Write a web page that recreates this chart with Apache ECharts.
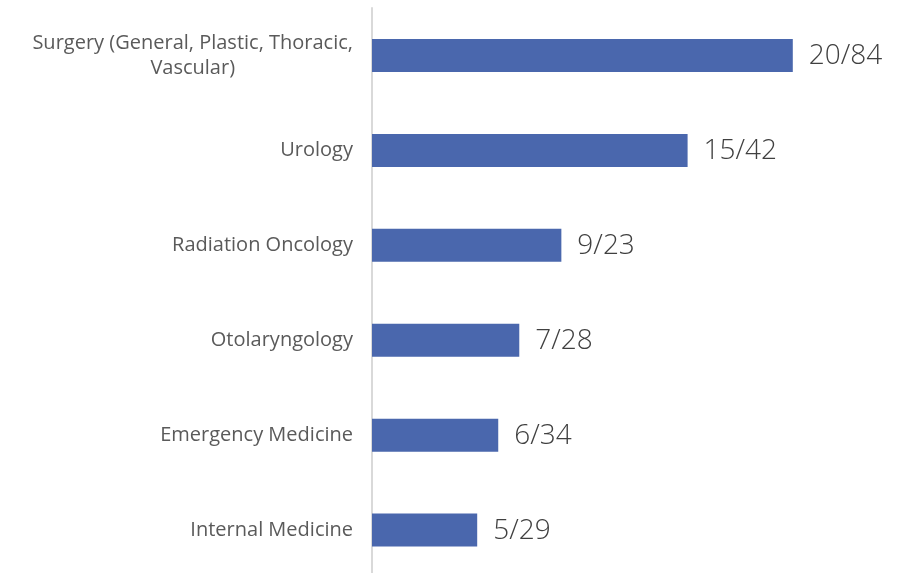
<!DOCTYPE html>
<html>
<head>
<meta charset="utf-8">
<script src="https://cdn.jsdelivr.net/npm/echarts@6/dist/echarts.min.js"></script>
<style>
  html, body { margin: 0; padding: 0; background: #fff; }
  #main { width: 904px; height: 573px; }
</style>
</head>
<body>
<div id="main"></div>
<script>
// categories listed bottom to top (category axis starts at the bottom)
var categories = ['Internal Medicine', 'Emergency Medicine', 'Otolaryngology',
  'Radiation Oncology', 'Urology', 'Surgery (General, Plastic, Thoracic, Vascular)'];
var matched = [5, 6, 7, 9, 15, 20];
var totals = [29, 34, 28, 23, 42, 84];

var myChart = echarts.init(document.getElementById('main'));

var labelFont = 'Open Sans';

var option = {
  animation: false,
  grid: {left: 372, width: 526, top: 8, height: 569.5, outerBoundsMode: 'none'},
  xAxis: {
    type: 'value',
    min: 0,
    max: 25,
    show: false
  },
  yAxis: {
    type: 'category',
    data: categories,
    axisTick: {show: false},
    axisLine: {show: true, lineStyle: {color: '#d9d9d9', width: 2}},
    axisLabel: {
      margin: 19,
      fontFamily: labelFont,
      fontSize: 20,
      color: '#5a5a5a',
      lineHeight: 25,
      formatter: function (v) {
        if (v.indexOf('Surgery') === 0) {
          return '{a|Surgery (General, Plastic, Thoracic,}\n{c|Vascular)}';
        }
        return v;
      },
      rich: {
        a: {fontFamily: labelFont, fontSize: 20, color: '#5a5a5a', lineHeight: 25},
        c: {fontFamily: labelFont, fontSize: 20, color: '#5a5a5a', lineHeight: 25, align: 'center'}
      }
    }
  },
  series: [{
    type: 'bar',
    data: matched,
    barWidth: 33,
    itemStyle: {color: '#4a67ad'},
    label: {
      show: true,
      position: 'right',
      distance: 16,
      offset: [0, 1],
      fontFamily: labelFont,
      fontWeight: 300,
      fontSize: 28,
      color: '#404040',
      formatter: function (p) {
        return matched[p.dataIndex] + '/' + totals[p.dataIndex];
      }
    }
  }]
};

myChart.setOption(option);
</script>
</body>
</html>
